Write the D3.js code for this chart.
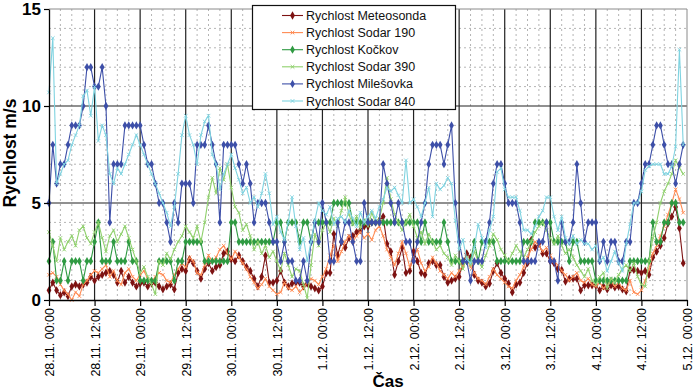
<!DOCTYPE html>
<html><head><meta charset="utf-8">
<script src="https://cdn.jsdelivr.net/npm/d3@7"></script>
<style>
html,body{margin:0;padding:0;background:#fff;}
svg{display:block;font-family:Arial,"Liberation Sans",sans-serif;}
</style></head>
<body><svg id="c" width="697" height="390"></svg>
<script>
// ---------- DATA (hourly values, 28.11. 00:00 .. 4.12. 23:00) ----------
const startTime = "2010-11-28T00:00:00";
const endTime = "2010-12-05T00:00:00";
const seriesNames = ["Rychlost Meteosonda","Rychlost Sodar 190","Rychlost Kočkov","Rychlost Sodar 390","Rychlost Milešovka","Rychlost Sodar 840"];
const yTicks = [0,5,10,15];

const meteosonda = [
0.5,0.9,0.5,0.25,0.4,0.2,0.7,0.8,0.7,0.8,
0.9,1.2,1.0,1.2,1.3,1.4,1.5,1.3,0.9,1.5,
0.9,1.2,0.9,0.7,0.85,0.9,0.7,0.85,0.9,0.7,
0.55,0.7,0.8,0.55,1.4,1.6,1.5,2.1,1.9,1.5,
1.1,1.6,1.9,1.5,1.7,1.8,2.4,2.5,2.1,2.0,
2.3,2.0,1.7,1.5,1.1,0.7,1.2,2.3,0.9,0.9,
1.0,1.5,0.9,0.7,0.85,0.9,0.9,0.7,0.85,0.7,
0.6,0.5,0.7,1.4,1.4,3.4,2.3,3.0,2.7,3.2,
3.3,3.5,3.6,3.8,3.8,4.0,4.0,4.1,4.3,2.9,
2.5,1.3,2.0,2.7,1.4,1.5,2.5,2.0,1.4,1.3,
1.9,2.0,1.8,1.8,1.2,0.9,1.0,1.1,1.2,1.9,
2.4,2.2,1.3,1.0,0.9,0.7,0.85,1.5,1.9,1.4,
1.1,0.85,0.4,0.8,0.9,1.4,1.9,3.1,2.7,2.9,
2.4,2.4,2.0,1.9,1.6,1.55,0.95,1.1,1.1,1.1,
0.5,0.76,0.76,0.76,0.76,0.5,0.7,0.55,0.76,0.65,
0.7,0.55,0.45,1.55,1.55,1.5,1.4,1.5,1.3,2.2,
2.5,2.8,3.2,3.95,4.3,4.8,3.7,1.9];

const sodar190 = [
1.3,1.4,1.2,0.8,0.5,0.3,0.0,0.4,0.2,0.8,
1.0,1.3,1.5,1.4,1.6,1.8,1.2,1.5,1.0,0.8,
1.4,1.6,1.2,1.0,1.3,1.5,1.1,0.9,1.2,1.4,
1.3,1.0,0.9,1.3,1.6,1.9,1.7,2.2,2.0,1.4,
1.3,1.8,2.3,2.0,2.2,2.6,2.8,2.4,2.1,2.5,
2.2,1.9,1.6,1.2,0.9,0.6,0.8,1.1,0.7,0.5,
0.3,0.4,0.9,0.6,0.5,0.7,0.4,0.6,0.9,1.1,
1.0,0.8,1.2,1.6,2.3,2.8,2.0,2.5,3.0,3.3,
3.0,3.3,3.5,3.2,3.4,3.1,3.6,3.8,3.3,2.6,
2.2,1.8,2.4,3.0,2.4,1.7,2.2,2.6,1.9,1.5,
1.7,2.2,1.9,1.5,1.3,1.1,1.4,1.2,1.5,1.8,
2.1,1.7,1.4,1.1,1.0,0.8,1.2,1.6,1.3,1.1,
0.9,0.7,0.6,1.0,1.3,1.7,2.2,2.6,3.0,2.8,
2.5,2.7,2.3,2.0,1.8,1.5,1.3,1.0,1.2,1.4,
1.0,0.9,1.1,0.8,0.7,0.9,0.6,0.8,1.0,0.7,
0.9,0.6,0.5,1.0,0.4,0.3,0.5,1.0,1.6,2.4,
2.8,3.3,3.8,4.4,5.0,5.7,5.2,4.5];

const kockov = [
2,3,1,1,2,1,2,2,2,1,
2,2,3,4,2,2,2,3,2,2,
2,3,2,2,1,1,1,1,1,2,
2,2,2,1,2,2,3,3,3,3,
3,2,2,2,2,2,2,2,4,4,
3,3,3,3,3,3,3,3,3,3,
4,4,3,4,4,4,3,4,4,3,
4,4,4,4,4,5,5,5,5,5,
4,4,4,4,4,4,4,4,4,4,
4,4,4,4,4,4,4,4,3,4,
3,3,3,3,4,3,2,2,2,2,
2,2,3,2,3,3,3,3,2,2,
2,2,2,2,2,3,3,3,4,4,
4,4,4,3,3,3,3,2,3,3,
2,2,2,2,1,1,1,1,1,1,
1,1,1,2,2,2,2,2,2,4,
3,3,4,4,5,5,4,4];

const sodar390 = [
3.5,2.8,2.0,3.2,2.6,3.0,3.3,2.8,3.6,3.8,
3.2,2.9,3.5,4.0,3.2,2.5,3.3,3.6,3.0,3.4,
3.8,3.2,2.6,2.0,1.4,1.7,1.2,0.8,0.3,2.0,
1.8,2.4,2.1,2.6,3.0,3.3,3.8,3.5,3.2,3.8,
3.0,4.0,5.3,6.3,5.5,6.8,6.2,7.0,5.8,4.8,
4.5,3.6,3.9,3.3,2.6,3.0,2.4,2.8,2.2,2.5,
2.0,1.5,2.4,1.8,1.2,1.6,1.5,0.8,0.1,1.8,
3.4,2.8,3.6,4.0,3.5,4.2,3.8,4.6,5.3,4.4,
3.9,4.3,3.7,4.1,3.8,4.5,4.0,4.2,5.0,6.3,
5.2,4.4,4.0,3.6,4.0,4.4,3.8,3.2,3.5,2.9,
3.4,3.0,2.6,2.8,2.4,2.2,1.8,2.3,2.0,1.6,
2.2,1.8,2.5,2.0,1.7,2.3,2.8,3.4,3.1,2.6,
2.3,2.0,2.4,2.8,2.5,2.2,2.6,3.0,3.5,3.8,
4.0,3.6,3.2,2.9,3.3,2.8,2.4,2.6,2.2,1.8,
1.5,1.2,1.6,1.0,0.8,1.2,1.4,0.6,1.1,0.9,
1.3,1.6,1.8,1.5,1.9,1.2,0.8,0.7,2.0,3.2,
4.0,5.0,5.6,6.0,6.5,7.2,6.8,6.5];

const milesovka = [
5,8,6,7,7,8,9,9,9,10,
12,12,11,11,12,10,4,7,7,7,
9,9,9,9,9,8,7,7,6,5,
5,4,3,5,4,6,6,6,5,8,
8,8,9,8,7,4,8,8,8,8,
7,6,7,6,4,5,5,5,4,3,
3,2,3,2,2,1,1,2,1,3,
4,3,5,4,2,2,4,3,4,4,
3,2,2,5,4,4,4,4,7,6,
5,4,5,4,3,3,2,3,4,5,
7,8,8,8,7,8,9,5,3,2,
2,1,2,2,2,3,4,6,7,7,
6,5,5,5,4,2,2,2,2,3,
3,4,2,2,1,4,3,3,4,7,
5,3,4,4,4,2,3,2,3,3,
2,2,3,3,5,5,6,7,7,8,
9,9,8,7,7,6,7,8];

const sodar840 = [
10.7,13.5,6.0,6.5,7.0,7.2,8.0,8.5,9.0,10.5,
10.8,9.5,11.0,8.2,9.0,8.5,6.5,6.0,6.8,6.5,
7.0,7.5,8.0,8.5,8.0,7.5,7.0,6.5,6.0,5.5,
5.0,4.5,3.8,4.8,6.5,8.5,9.5,8.5,8.0,7.0,
8.5,9.2,9.5,7.5,7.0,5.7,6.5,7.0,7.5,6.8,
6.2,5.5,5.8,5.0,5.3,4.8,5.5,6.5,5.5,3.9,
4.3,3.5,3.1,4.0,5.3,3.8,2.6,3.2,2.0,3.0,
4.1,5.0,4.6,4.4,4.8,3.9,4.2,4.3,4.0,4.6,
4.2,3.8,4.5,4.0,4.3,4.6,4.2,4.8,5.2,5.8,
5.6,5.8,5.4,5.0,7.2,5.0,5.2,4.8,4.3,5.0,
5.8,4.3,6.0,5.7,5.9,6.3,6.0,4.1,2.6,3.1,
2.1,1.9,2.7,3.9,3.2,2.7,3.6,4.3,6.6,6.8,
5.7,5.3,5.3,5.3,4.6,3.6,3.6,3.4,3.8,4.3,
4.6,5.3,5.3,4.3,3.6,4.3,3.2,2.9,3.3,2.9,
3.1,2.9,2.9,2.6,2.8,2.0,2.2,1.5,2.0,2.5,
1.9,1.5,2.9,3.9,5.0,5.0,5.6,6.7,6.9,7.0,
7.0,7.0,6.5,6.5,6.9,7.9,12.9,8.0];

// ---------- CHART ----------
const seriesValues = [meteosonda, sodar190, kockov, sodar390, milesovka, sodar840];
const colors = ["#7d1212","#ff8a52","#2f9a42","#8fd06c","#3d4fa8","#7fd3e0"];
const markerType = ["diamond","x","diamond","x","diamond","x"];

const svg = d3.select("#c");
const L = 49, R = 687, T = 9, B = 300;
const t0 = new Date(startTime), t1 = new Date(endTime);
const x = d3.scaleTime().domain([t0, t1]).range([L, R]);
const y = d3.scaleLinear().domain([0, 15]).range([B, T]);
const timeAt = i => d3.timeHour.offset(t0, i);

// minor grid
const g = svg.append("g");
const minorH = d3.range(1, 15).filter(v => v % 5 !== 0);
g.selectAll(".mh").data(minorH).join("line")
  .attr("x1", L).attr("x2", R).attr("y1", d => y(d)).attr("y2", d => y(d))
  .attr("stroke", "#b4b4b4").attr("stroke-width", 1).attr("stroke-dasharray", "2,3");
const minorV = d3.timeHour.every(3).range(t0, t1).filter(d => d.getHours() % 12 !== 0);
g.selectAll(".mv").data(minorV).join("line")
  .attr("x1", d => x(d)).attr("x2", d => x(d)).attr("y1", T).attr("y2", B)
  .attr("stroke", "#b4b4b4").attr("stroke-width", 1).attr("stroke-dasharray", "2,3");
// major grid
const majorV = d3.timeHour.every(12).range(d3.timeHour.offset(t0, 12), t1);
g.selectAll(".Mv").data(majorV).join("line")
  .attr("x1", d => x(d)).attr("x2", d => x(d)).attr("y1", T).attr("y2", B)
  .attr("stroke", "#222").attr("stroke-width", 1.2);
g.selectAll(".Mh").data([5, 10]).join("line")
  .attr("x1", L).attr("x2", R).attr("y1", d => y(d)).attr("y2", d => y(d))
  .attr("stroke", "#222").attr("stroke-width", 1.2);
// frame top/right
g.append("line").attr("x1", L).attr("x2", R).attr("y1", y(15)).attr("y2", y(15)).attr("stroke", "#8a8a8a");
g.append("line").attr("x1", R).attr("x2", R).attr("y1", T).attr("y2", B).attr("stroke", "#8a8a8a");

// series
const line = d3.line().x((d, i) => x(timeAt(i))).y(d => y(d));
const diamond = d3.symbol().type(d3.symbolDiamond).size(20);
seriesValues.forEach((vals, si) => {
  const sg = svg.append("g");
  sg.append("path").datum(vals).attr("d", line)
    .attr("fill", "none").attr("stroke", colors[si]).attr("stroke-width", 1.1);
  if (markerType[si] === "diamond") {
    sg.selectAll("path.m").data(vals).join("path").attr("class", "m")
      .attr("d", diamond)
      .attr("transform", (d, i) => `translate(${x(timeAt(i))},${y(d)})`)
      .attr("fill", colors[si]);
  } else {
    sg.selectAll("path.m").data(vals).join("path").attr("class", "m")
      .attr("d", "M-1.8,-1.8L1.8,1.8M-1.8,1.8L1.8,-1.8")
      .attr("transform", (d, i) => `translate(${x(timeAt(i))},${y(d)})`)
      .attr("stroke", colors[si]).attr("stroke-width", 0.9).attr("fill", "none");
  }
});

// axes
const fmt = d3.timeFormat("%-d.%-m. %H:%M");
const xAxis = svg.append("g").attr("transform", `translate(0,${B})`)
  .call(d3.axisBottom(x).ticks(d3.timeHour.every(12)).tickFormat(fmt).tickSize(6).tickSizeOuter(0));
xAxis.select(".domain").attr("stroke", "#000").attr("stroke-width", 1.3);
xAxis.selectAll(".tick line").attr("stroke", "#000").attr("stroke-width", 1.2);
xAxis.selectAll(".tick text")
  .attr("transform", "rotate(-90)")
  .attr("text-anchor", "end")
  .attr("x", -8).attr("y", 0).attr("dy", "0.36em")
  .attr("font-size", "12.5px").attr("font-family", "Arial, 'Liberation Sans', sans-serif")
  .attr("fill", "#000");

const yAxis = svg.append("g").attr("transform", `translate(${L},0)`)
  .call(d3.axisLeft(y).tickValues(yTicks).tickSize(5).tickPadding(3).tickSizeOuter(0));
yAxis.select(".domain").attr("stroke", "#000").attr("stroke-width", 1.3);
yAxis.selectAll(".tick line").attr("stroke", "#000").attr("stroke-width", 1.2);
yAxis.selectAll(".tick text").attr("font-size", "17px").attr("font-weight", "bold")
  .attr("font-family", "Arial, 'Liberation Sans', sans-serif").attr("fill", "#000");

// titles
svg.append("text").attr("transform", `translate(16,153) rotate(-90)`)
  .attr("text-anchor", "middle").attr("font-size", "17.5px").attr("font-weight", "bold")
  .text("Rychlost m/s");
svg.append("text").attr("x", 388).attr("y", 387)
  .attr("text-anchor", "middle").attr("font-size", "17px").attr("font-weight", "bold")
  .text("Čas");

// legend
const lg = svg.append("g");
lg.append("rect").attr("x", 252.5).attr("y", 5.5).attr("width", 203).attr("height", 104)
  .attr("fill", "#fff").attr("stroke", "#111").attr("stroke-width", 1.2);
const lx1 = 282, lx2 = 303, ly0 = 15.5, lstep = 17.1;
seriesNames.forEach((name, i) => {
  const yy = ly0 + i * lstep;
  lg.append("line").attr("x1", lx1).attr("x2", lx2).attr("y1", yy).attr("y2", yy)
    .attr("stroke", colors[i]).attr("stroke-width", 1.1);
  if (markerType[i] === "diamond") {
    lg.append("path").attr("d", diamond).attr("transform", `translate(${(lx1 + lx2) / 2},${yy})`).attr("fill", colors[i]);
  } else {
    lg.append("path").attr("d", "M-1.8,-1.8L1.8,1.8M-1.8,1.8L1.8,-1.8")
      .attr("transform", `translate(${(lx1 + lx2) / 2},${yy})`).attr("stroke", colors[i]).attr("fill", "none");
  }
  lg.append("text").attr("x", 306).attr("y", yy).attr("dy", "0.36em")
    .attr("font-size", "12.5px").attr("fill", "#111").text(name);
});
</script></body></html>
